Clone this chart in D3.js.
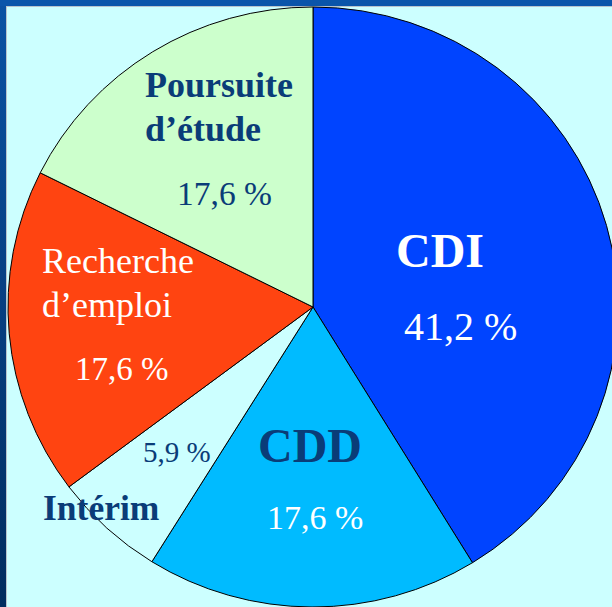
<!DOCTYPE html>
<html>
<head>
<meta charset="utf-8">
<script src="https://cdn.jsdelivr.net/npm/d3@7"></script>
<style>
  html, body { margin: 0; padding: 0; background: #ccffff; }
  svg { display: block; }
</style>
</head>
<body>
<div id="chart"></div>
<script>
// Données du graphique
const categories = ["CDI", "CDD", "Intérim", "Recherche d’emploi", "Poursuite d’étude"];
const values = [41.2, 17.6, 5.9, 17.6, 17.6];
const valueLabels = ["41,2 %", "17,6 %", "5,9 %", "17,6 %", "17,6 %"];

const width = 612;
const height = 607;
const cx = 313, cy = 307;
const ry = 300, rx = 305;

const color = d3.scaleOrdinal()
    .domain(categories)
    .range(["#0044ff", "#00bbff", "#ccffff", "#ff4411", "#ccffcc"]);

const svg = d3.select("#chart")
    .append("svg")
    .attr("width", width)
    .attr("height", height);

// fond type diapositive
svg.append("rect").attr("width", width).attr("height", height).attr("fill", "#ccffff");

const grad = svg.append("defs").append("linearGradient")
    .attr("id", "bord").attr("x1", 0).attr("y1", 0).attr("x2", 0).attr("y2", 1);
grad.append("stop").attr("offset", "0%").attr("stop-color", "#0a52a4");
grad.append("stop").attr("offset", "100%").attr("stop-color", "#012c5e");

svg.append("rect").attr("x", 0).attr("y", 0).attr("width", 6).attr("height", height).attr("fill", "url(#bord)");
svg.append("rect").attr("x", 0).attr("y", 0).attr("width", width).attr("height", 6).attr("fill", "#0a55aa");
svg.append("rect").attr("x", 6).attr("y", 6).attr("width", 1).attr("height", height).attr("fill", "#b8c4cc");
svg.append("rect").attr("x", 6).attr("y", 6).attr("width", width).attr("height", 1).attr("fill", "#b8c4cc");

// camembert (légèrement étiré horizontalement)
const pie = d3.pie().sort(null).value(d => d)(values);
const arc = d3.arc().innerRadius(0).outerRadius(ry);

svg.append("g")
    .attr("transform", `translate(${cx},${cy}) scale(${rx / ry},1)`)
    .selectAll("path")
    .data(pie)
    .enter().append("path")
    .attr("d", arc)
    .attr("fill", (d, i) => color(categories[i]))
    .attr("stroke", "#000")
    .attr("stroke-width", 1)
    .attr("vector-effect", "non-scaling-stroke");

// étiquettes
const dark = "#0a3c78";
const labels = [
    { lines: ["CDI"], x: 396, y: [267], size: 48, bold: true, fill: "#fff", val: { x: 404, y: 340, size: 40, fill: "#fff" } },
    { lines: ["CDD"], x: 258, y: [462], size: 48, bold: true, fill: dark, val: { x: 267, y: 529, size: 34, fill: "#fff" } },
    { lines: ["Intérim"], x: 43, y: [520], size: 35.5, bold: true, fill: dark, val: { x: 143, y: 462, size: 29, fill: dark } },
    { lines: ["Recherche", "d’emploi"], x: 42, y: [273, 317], size: 36, bold: false, fill: "#fff", val: { x: 75, y: 380, size: 33, fill: "#fff" } },
    { lines: ["Poursuite", "d’étude"], x: 145, y: [97, 141], size: 36, bold: true, fill: dark, val: { x: 177, y: 205, size: 33.5, fill: dark } }
];

labels.forEach(function(l, i) {
    l.lines.forEach(function(t, j) {
        svg.append("text")
            .attr("x", l.x).attr("y", l.y[j])
            .attr("font-family", "'Liberation Serif', 'Times New Roman', serif")
            .attr("font-size", l.size)
            .attr("font-weight", l.bold ? "bold" : "normal")
            .attr("fill", l.fill)
            .text(t);
    });
    svg.append("text")
        .attr("x", l.val.x).attr("y", l.val.y)
        .attr("font-family", "'Liberation Serif', 'Times New Roman', serif")
        .attr("font-size", l.val.size)
        .attr("fill", l.val.fill)
        .text(valueLabels[i]);
});
</script>
</body>
</html>
